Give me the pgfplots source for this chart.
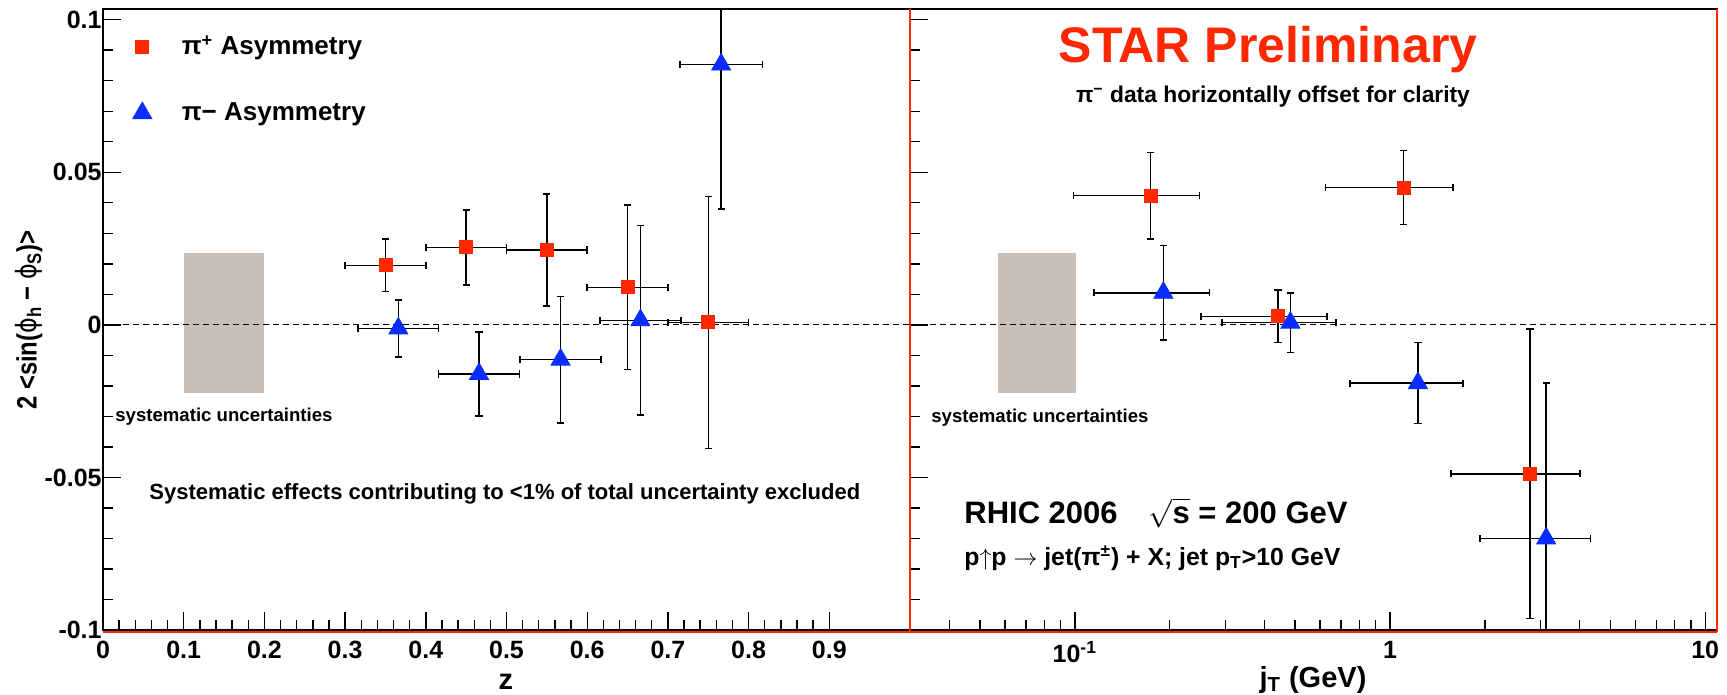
\documentclass[border=0pt]{standalone}
\usepackage{pgfplots}
\pgfplotsset{compat=1.18}
\usepackage{pgfplotstable}
\usepackage{amsmath}
\usepackage{graphicx}
\usepackage{fontspec}
\setmainfont{Liberation Sans}
\newfontfamily\dejavu{DejaVu Sans}

\definecolor{starred}{RGB}{255,40,0}
\definecolor{pimblue}{RGB}{10,45,255}
\definecolor{sysband}{RGB}{200,192,184}

\newcommand\fs[1]{\fontsize{#1bp}{#1bp}\selectfont\bfseries}

% z dependence: x, y, x error, y error
\pgfplotstableread{
x      y        ex     ey
0.35   0.0195   0.05   0.0086
0.45   0.0254   0.05   0.0123
0.55   0.0245   0.05   0.0184
0.65   0.0123   0.05   0.0270
0.75   0.0008   0.05   0.0413
}\zpip
\pgfplotstableread{
x      y        ex     ey
0.366  -0.0012  0.05   0.0093
0.466  -0.0161  0.05   0.0138
0.567  -0.0114  0.05   0.0207
0.666   0.0015  0.05   0.0310
0.766   0.0853  0.051  0.0473
}\zpim
% jT dependence
\pgfplotstableread{
x      y        ex     ey
0.174   0.0423  0.075  0.0142
0.441   0.0028  0.19   0.0086
1.104   0.0450  0.48   0.0121
2.78   -0.0488  1.22   0.0475
}\jpip
\pgfplotstableread{
x      y        ex     ey
0.191   0.0105  0.076  0.0155
0.483   0.0007  0.19   0.0098
1.226  -0.0191  0.48   0.0133
3.13   -0.0700  1.20   0.0510
}\jpim

\pgfplotsset{
  panel/.style={
    scale only axis, width=403.5bp, height=310.5bp, anchor=south west,
    ymin=-0.1, ymax=0.1035,
    ytick={-0.1,-0.05,0,0.05,0.1},
    minor y tick num=4,
    xtick pos=bottom, ytick pos=left,
    tick align=inside,
    major tick length=9bp, minor tick length=5bp,
    every tick/.style={black, line width=0.7bp},
    axis line style={black, line width=0.8bp},
    ticklabel style={font=\fs{12.5}},
    /pgf/number format/assume math mode=true,
    xticklabel style={inner sep=0pt, yshift=-5.5bp},
    yticklabel style={inner sep=0.5bp},
  },
  errs/.style={
    error bars/x dir=both, error bars/x explicit,
    error bars/y dir=both, error bars/y explicit,
    error bars/error bar style={black, line width=0.75bp},
    error bars/error mark options={black, line width=0.75bp, mark size=1.8bp, rotate=90}},
  pip/.style={only marks, mark=square*, mark size=3.25bp, color=starred,
    mark options={draw=starred, fill=starred}, errs},
  pim/.style={only marks, mark=triangle*, mark size=5.5bp, color=pimblue,
    mark options={draw=pimblue, fill=pimblue}, errs},
}

\begin{document}
\begin{tikzpicture}
\path[use as bounding box] (0bp,0bp) rectangle (863.5bp,347.5bp);

% left panel: asymmetry versus z
\begin{axis}[panel, at={(51.5bp,32.5bp)},
  xmin=0, xmax=1,
  xtick={0,0.1,0.2,0.3,0.4,0.5,0.6,0.7,0.8,0.9},
  xticklabels={0,0.1,0.2,0.3,0.4,0.5,0.6,0.7,0.8,0.9},
  minor x tick num=4,
  yticklabels={-0.1,-0.05,0,0.05,0.1},
  legend style={draw=none, fill=none, at={(0.029,0.971)}, anchor=north west,
    font=\fs{13}, row sep=18.5bp, column sep=13bp, legend cell align=left},
]
\addplot[draw=none, fill=sysband, forget plot] coordinates {(0.1,-0.0225) (0.2,-0.0225) (0.2,0.0235) (0.1,0.0235)} -- cycle;
\addplot[black, line width=0.6bp, dash pattern=on 3bp off 2bp, forget plot] coordinates {(0,0) (1,0)};
\addplot[forget plot, pip] table[x=x, y=y, x error=ex, y error=ey] {\zpip};
\addplot[forget plot, pim] table[x=x, y=y, x error=ex, y error=ey] {\zpim};
\addlegendimage{only marks, mark=square*, mark size=3.25bp, starred}
\addlegendentry{π\textsuperscript{+} Asymmetry}
\addlegendimage{only marks, mark=triangle*, mark size=5.5bp, pimblue}
\addlegendentry{π− Asymmetry}
\end{axis}

% right panel: asymmetry versus jT
\begin{axis}[panel, at={(455bp,32.5bp)},
  xmode=log, xmin=0.03, xmax=10.9,
  xtick={0.1,1,10},
  xticklabels={10\textsuperscript{-1},1,10},
  minor xtick={0.04,0.05,0.06,0.07,0.08,0.09,0.2,0.3,0.4,0.5,0.6,0.7,0.8,0.9,2,3,4,5,6,7,8,9},
  yticklabels={},
]
\addplot[draw=none, fill=sysband] coordinates {(0.057,-0.0225) (0.101,-0.0225) (0.101,0.0235) (0.057,0.0235)} -- cycle;
\addplot[black, line width=0.6bp, dash pattern=on 3bp off 2bp] coordinates {(0.03,0) (10.9,0)};
\addplot[pip] table[x=x, y=y, x error=ex, y error=ey] {\jpip};
\addplot[pim] table[x=x, y=y, x error=ex, y error=ey] {\jpim};
\end{axis}

% labels and frame accents, in pixel units from the top-left corner
\begin{scope}[x=0.5bp, y=-0.5bp, shift={(0bp,347.5bp)}]
  \draw[starred, line width=1.2bp] (910,9) -- (910,632);
  \draw[starred, line width=1.2bp] (1717,9) -- (1717,632);
  \draw[starred, line width=1.2bp] (103,632) -- (1717,632);

  \node[rotate=90, inner sep=0pt, font=\fs{14}] at (29,320)
    {\scalebox{0.85}[1]{2 <sin({\dejavu\mdseries ϕ}\textsubscript{h} − {\dejavu\mdseries ϕ}\textsubscript{S})>}};
  \node[inner sep=0pt, font=\fs{14.5}] at (506,682) {z};
  \node[inner sep=0pt, font=\fs{14.5}] at (1313,680) {j\textsubscript{T} (GeV)};

  \node[text=starred, font=\fs{25}] at (1268,50) {STAR Preliminary};
  \node[font=\fs{11.4}] at (1273,97) {π\textsuperscript{−} data horizontally offset for clarity};

  \begin{scope}[every node/.style={anchor=west, inner sep=0pt}]
  \node[font=\fs{9.3}] at (115,417) {systematic uncertainties};
  \node[font=\fs{9.3}] at (931,418) {systematic uncertainties};
  \node[font=\fs{11}] at (149,494)
    {Systematic effects contributing to <1\% of total uncertainty excluded};
  \node[font=\fs{15.5}] at (964,513)
    {RHIC 2006\hspace{1em}$\sqrt{\text{s}}$ = 200 GeV};
  \node[font=\fs{12.4}] at (964,558)
    {p$\uparrow$p $\rightarrow$ jet(π\textsuperscript{±}) + X; jet p\textsubscript{T}>10 GeV};
  \end{scope}
\end{scope}
\end{tikzpicture}
\end{document}
